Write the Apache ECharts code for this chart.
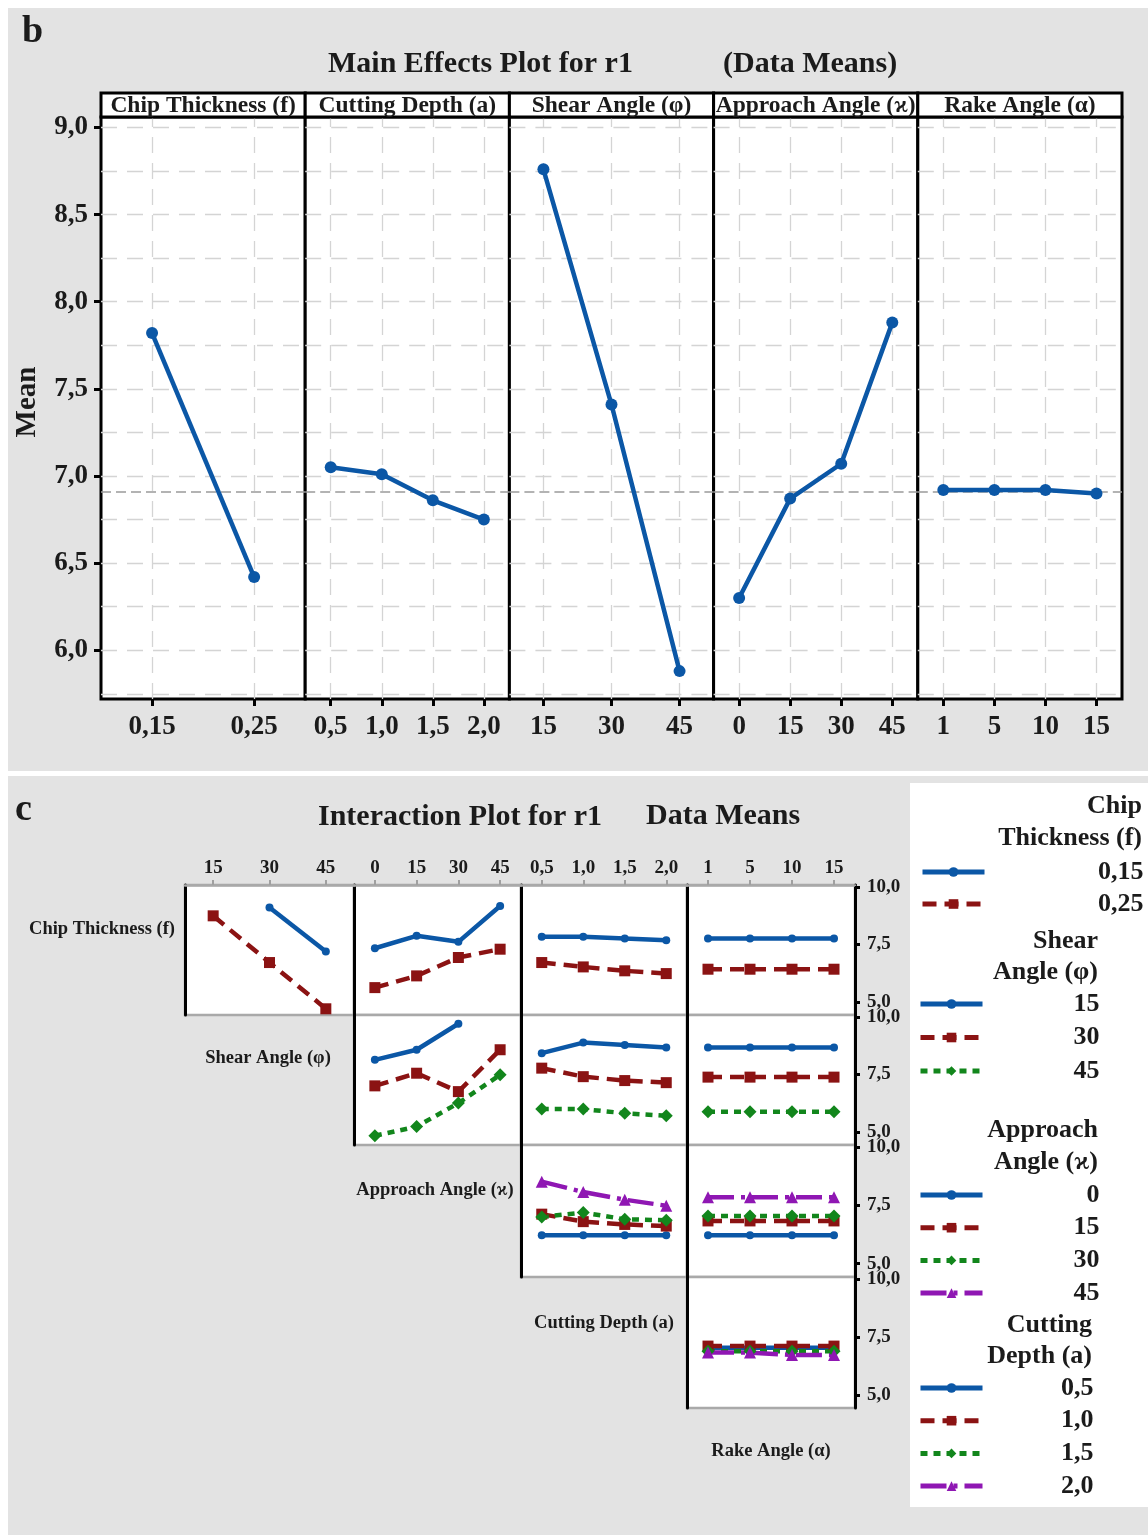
<!DOCTYPE html>
<html><head><meta charset="utf-8">
<script src="https://cdn.jsdelivr.net/npm/echarts@6/dist/echarts.min.js"></script>
<style>
html,body{margin:0;padding:0;background:#fff;}
#wrap{position:relative;width:1148px;height:1535px;overflow:hidden;background:#fff;}
.bg{position:absolute;background:#e3e3e3;}
#chart{position:absolute;left:0;top:0;width:1148px;height:1535px;}
</style></head>
<body><div id="wrap">
<div class="bg" style="left:8px;top:8px;width:1140px;height:763px"></div>
<div class="bg" style="left:8px;top:776px;width:1140px;height:759px"></div>
<div style="position:absolute;left:910px;top:783px;width:238px;height:724px;background:#fff"></div>
<div id="chart"></div></div>
<script>
// ---------- DATA ----------
const chipLevels = ['0,15', '0,25'];
const depthLevels = ['0,5', '1,0', '1,5', '2,0'];
const shearLevels = ['15', '30', '45'];
const approachLevels = ['0', '15', '30', '45'];
const rakeLevels = ['1', '5', '10', '15'];

// Main effects (means)
const meanChip = [7.82, 6.42];
const meanDepth = [7.05, 7.01, 6.86, 6.75];
const meanShear = [8.76, 7.41, 5.88];
const meanApproach = [6.30, 6.87, 7.07, 7.88];
const meanRake = [6.92, 6.92, 6.92, 6.90];
const grandMean = 6.91;
const meanTicks = [6.0, 6.5, 7.0, 7.5, 8.0, 8.5, 9.0];
const meanGridValues = [5.75, 6.0, 6.25, 6.5, 6.75, 7.0, 7.25, 7.5, 7.75, 8.0, 8.25, 8.5, 8.75, 9.0];
const interTicks = [5.0, 7.5, 10.0];

// Interaction: Chip Thickness (f) traces
const f015_vsShear = [null, 9.10, 7.19];
const f025_vsShear = [8.74, 6.71, 4.70];
const f015_vsApproach = [7.33, 7.87, 7.61, 9.17];
const f025_vsApproach = [5.62, 6.13, 6.93, 7.29];
const f015_vsDepth = [7.83, 7.83, 7.75, 7.68];
const f025_vsDepth = [6.71, 6.52, 6.35, 6.23];
const f015_vsRake = [7.75, 7.75, 7.75, 7.75];
const f025_vsRake = [6.42, 6.42, 6.42, 6.42];
// Shear Angle traces
const s15_vsApproach = [8.13, 8.57, 9.70, null];
const s30_vsApproach = [7.00, 7.55, 6.75, 8.57];
const s45_vsApproach = [4.83, 5.23, 6.25, 7.48];
const s15_vsDepth = [8.42, 8.88, 8.78, 8.67];
const s30_vsDepth = [7.77, 7.40, 7.23, 7.14];
const s45_vsDepth = [5.99, 5.99, 5.81, 5.70];
const s15_vsRake = [8.67, 8.67, 8.67, 8.67];
const s30_vsRake = [7.38, 7.38, 7.38, 7.38];
const s45_vsRake = [5.88, 5.88, 5.88, 5.88];
// Approach Angle traces
const a0_vsDepth = [6.22, 6.22, 6.22, 6.22];
const a15_vsDepth = [7.12, 6.80, 6.68, 6.61];
const a30_vsDepth = [7.00, 7.19, 6.90, 6.86];
const a45_vsDepth = [8.51, 8.07, 7.74, 7.48];
const a0_vsRake = [6.22, 6.22, 6.22, 6.22];
const a15_vsRake = [6.83, 6.83, 6.83, 6.83];
const a30_vsRake = [7.04, 7.04, 7.04, 7.04];
const a45_vsRake = [7.84, 7.84, 7.84, 7.84];
// Cutting Depth traces
const d05_vsRake = [7.03, 7.03, 7.03, 7.03];
const d10_vsRake = [7.10, 7.10, 7.10, 7.10];
const d15_vsRake = [6.88, 6.88, 6.88, 6.88];
const d20_vsRake = [6.82, 6.82, 6.72, 6.72];

// ---------- STYLE / LAYOUT ----------
const FONT = 'Liberation Serif';
const INK = '#1b1b1b';
const BLUE = '#0b57a6';
const levelStyles = [
  {color: '#0b57a6', type: 'solid', symbol: 'circle', size: 8},
  {color: '#8b1313', type: [14, 8], symbol: 'rect', size: 11},
  {color: '#12861c', type: [7, 6], symbol: 'diamond', size: 13},
  {color: '#8f17b3', type: [26, 7, 4, 7], symbol: 'triangle', size: 12}
];
const fmt = v => Number(v).toFixed(1).replace('.', ',');

const grid = [], xAxis = [], yAxis = [], series = [], graphic = [];

function txt(x, y, s, size, align, extra) {
  return Object.assign({
    type: 'text', x: x, y: y, silent: true, z: 50,
    style: {text: s, x: 0, y: 0, fill: INK, font: 'bold ' + size + 'px "' + FONT + '"',
      align: align || 'left', textAlign: align || 'left',
      verticalAlign: 'middle', textVerticalAlign: 'middle'}
  }, extra || {});
}

// ---------- MAIN EFFECTS ----------
const mainPanels = [
  {title: 'Chip Thickness (f)', cats: chipLevels, data: meanChip},
  {title: 'Cutting Depth (a)', cats: depthLevels, data: meanDepth},
  {title: 'Shear Angle (\u03C6)', cats: shearLevels, data: meanShear},
  {title: 'Approach Angle (\u03F0)', cats: approachLevels, data: meanApproach},
  {title: 'Rake Angle (\u03B1)', cats: rakeLevels, data: meanRake}
];
const ME = {left: 101, top: 117, width: 204.2, height: 582, min: 5.72, max: 9.06};
mainPanels.forEach((p, i) => {
  const gi = grid.length;
  const left = ME.left + i * ME.width;
  grid.push({left: left, top: ME.top, width: ME.width, height: ME.height, show: true,
    backgroundColor: '#fff', borderColor: '#000', borderWidth: 3});
  xAxis.push({type: 'category', gridIndex: gi, data: p.cats, boundaryGap: true,
    axisLine: {show: false}, splitLine: {show: false},
    axisTick: {show: true, alignWithLabel: true, length: 7, lineStyle: {color: '#000', width: 3}},
    axisLabel: {interval: 0, margin: 15, fontFamily: FONT, fontWeight: 'bold', fontSize: 27, color: INK}});
  const yi = yAxis.length;
  yAxis.push({type: 'value', gridIndex: gi, min: ME.min, max: ME.max,
    axisLine: {show: false}, splitLine: {show: false},
    axisTick: {show: i === 0, length: 7, lineStyle: {color: '#000', width: 3}, customValues: meanTicks},
    axisLabel: {show: i === 0, customValues: meanTicks, formatter: fmt, margin: 13,
      fontFamily: FONT, fontWeight: 'bold', fontSize: 27, color: INK}});
  // gridlines
  series.push({type: 'line', xAxisIndex: gi, yAxisIndex: yi, data: [], silent: true, z: 1,
    markLine: {silent: true, symbol: 'none', animation: false, label: {show: false},
      lineStyle: {color: '#d4d4d4', type: [16, 10], width: 1.3},
      data: meanGridValues.map(v => ({yAxis: v})).concat(p.cats.map((c, k) => ({xAxis: k})))}});
  // reference mean line
  series.push({type: 'line', xAxisIndex: gi, yAxisIndex: yi, data: [], silent: true, z: 1,
    markLine: {silent: true, symbol: 'none', animation: false, label: {show: false},
      lineStyle: {color: '#9b9b9b', type: [10, 5], width: 1.5},
      data: [{yAxis: grandMean}]}});
  series.push({type: 'line', name: 'Mean ' + p.title, xAxisIndex: gi, yAxisIndex: yi, data: p.data,
    symbol: 'circle', symbolSize: 12, z: 5,
    lineStyle: {color: BLUE, width: 4.5}, itemStyle: {color: BLUE}});
  graphic.push({type: 'rect', z: 40, shape: {x: left, y: 93, width: ME.width, height: 24},
    style: {fill: '#fff', stroke: '#000', lineWidth: 3}});
  graphic.push(txt(left + ME.width / 2, 106, p.title, 23.5, 'center'));
});

graphic.push(txt(22, 32, 'b', 38, 'left'));
graphic.push(txt(328, 64, 'Main Effects Plot for r1', 30, 'left'));
graphic.push(txt(723, 64, '(Data Means)', 30, 'left'));
graphic.push(txt(28, 402, 'Mean', 29, 'center', {rotation: Math.PI / 2}));

// ---------- INTERACTION ----------
const rowsDef = [
  {name: 'Chip Thickness (f)', levels: chipLevels},
  {name: 'Shear Angle (\u03C6)', levels: shearLevels},
  {name: 'Approach Angle (\u03F0)', levels: approachLevels},
  {name: 'Cutting Depth (a)', levels: depthLevels}
];
const colsDef = [shearLevels, approachLevels, depthLevels, rakeLevels];
const interCells = [
  {r: 0, c: 0, data: [f015_vsShear, f025_vsShear]},
  {r: 0, c: 1, data: [f015_vsApproach, f025_vsApproach]},
  {r: 0, c: 2, data: [f015_vsDepth, f025_vsDepth]},
  {r: 0, c: 3, data: [f015_vsRake, f025_vsRake]},
  {r: 1, c: 1, data: [s15_vsApproach, s30_vsApproach, s45_vsApproach]},
  {r: 1, c: 2, data: [s15_vsDepth, s30_vsDepth, s45_vsDepth]},
  {r: 1, c: 3, data: [s15_vsRake, s30_vsRake, s45_vsRake]},
  {r: 2, c: 2, data: [a0_vsDepth, a15_vsDepth, a30_vsDepth, a45_vsDepth]},
  {r: 2, c: 3, data: [a0_vsRake, a15_vsRake, a30_vsRake, a45_vsRake]},
  {r: 3, c: 3, data: [d05_vsRake, d10_vsRake, d15_vsRake, d20_vsRake]}
];
const colX = [185, 354, 521, 687, 855];
const rowY = [885, 1015, 1145, 1277, 1408];
const IY = {min: 4.43, max: 10.08};

interCells.forEach(cell => {
  const gi = grid.length;
  grid.push({left: colX[cell.c], top: rowY[cell.r], width: colX[cell.c + 1] - colX[cell.c],
    height: rowY[cell.r + 1] - rowY[cell.r], show: true, backgroundColor: '#fff',
    borderColor: '#a9a9a9', borderWidth: 2.5});
  const xi = xAxis.length;
  xAxis.push({type: 'category', gridIndex: gi, data: colsDef[cell.c], boundaryGap: true,
    position: 'top', show: cell.r === 0,
    axisLine: {show: true, lineStyle: {color: '#a9a9a9', width: 2.5}}, splitLine: {show: false},
    axisTick: {show: true, alignWithLabel: true, length: 5, lineStyle: {color: '#a0a0a0', width: 2}},
    axisLabel: {interval: 0, margin: 7, fontFamily: FONT, fontWeight: 'bold', fontSize: 19, color: INK}});
  const yi = yAxis.length;
  yAxis.push({type: 'value', gridIndex: gi, min: IY.min, max: IY.max, position: 'left',
    axisLine: {show: true, onZero: false, lineStyle: {color: '#000', width: 3}},
    axisTick: {show: false}, axisLabel: {show: false}, splitLine: {show: false}});
  if (cell.c === 3) {
    yAxis.push({type: 'value', gridIndex: gi, min: IY.min, max: IY.max, position: 'right',
      axisLine: {show: true, onZero: false, lineStyle: {color: '#000', width: 3}},
      axisTick: {show: true, length: 5, lineStyle: {color: '#000', width: 3}, customValues: interTicks},
      axisLabel: {show: true, customValues: interTicks, formatter: fmt, margin: 12,
        fontFamily: FONT, fontWeight: 'bold', fontSize: 19, color: INK},
      splitLine: {show: false}});
  }
  const row = rowsDef[cell.r];
  cell.data.forEach((d, k) => {
    const st = levelStyles[k];
    series.push({type: 'line', name: row.name + '|' + row.levels[k], xAxisIndex: xi, yAxisIndex: yi,
      data: d, symbol: st.symbol, symbolSize: st.size, z: 5,
      lineStyle: {color: st.color, width: 4.5, type: st.type}, itemStyle: {color: st.color}});
  });
});

graphic.push(txt(15, 810, 'c', 38, 'left'));
graphic.push(txt(318, 817, 'Interaction Plot for r1', 30, 'left'));
graphic.push(txt(646, 816, 'Data Means', 30, 'left'));
graphic.push(txt(175, 929, 'Chip Thickness (f)', 18.5, 'right'));
graphic.push(txt(268, 1058, 'Shear Angle (\u03C6)', 18.5, 'center'));
graphic.push(txt(435, 1190, 'Approach Angle (\u03F0)', 18.5, 'center'));
graphic.push(txt(604, 1323, 'Cutting Depth (a)', 18.5, 'center'));
graphic.push(txt(771, 1451, 'Rake Angle (\u03B1)', 18.5, 'center'));

// legend group titles
graphic.push(txt(1142, 806, 'Chip', 26, 'right'));
graphic.push(txt(1142, 838, 'Thickness (f)', 26, 'right'));
graphic.push(txt(1098, 941, 'Shear', 26, 'right'));
graphic.push(txt(1098, 972, 'Angle (\u03C6)', 26, 'right'));
graphic.push(txt(1098, 1130, 'Approach', 26, 'right'));
graphic.push(txt(1098, 1162, 'Angle (\u03F0)', 26, 'right'));
graphic.push(txt(1092, 1325, 'Cutting', 26, 'right'));
graphic.push(txt(1092, 1356, 'Depth (a)', 26, 'right'));

const legendDefs = [
  {row: 0, left: 920, top: 859, W: 154, gap: 6},
  {row: 1, left: 918, top: 991, W: 112, gap: 7.5},
  {row: 2, left: 918, top: 1182, W: 112, gap: 6.7},
  {row: 3, left: 918, top: 1375, W: 106, gap: 6.7}
];
const legend = legendDefs.map(d => ({
  orient: 'vertical', left: d.left, top: d.top, padding: 0,
  itemWidth: 62, itemHeight: 12, itemGap: d.gap, itemTextGap: 4, selectedMode: false,
  data: rowsDef[d.row].levels.map(l => rowsDef[d.row].name + '|' + l),
  formatter: n => '{t|' + n.split('|')[1] + '}',
  lineStyle: {width: 5},
  textStyle: {rich: {t: {width: d.W, align: 'right', fontFamily: FONT, fontWeight: 'bold',
    fontSize: 26, color: INK, lineHeight: 26, height: 26}}}
}));

const chart = echarts.init(document.getElementById('chart'), null, {renderer: 'canvas'});
chart.setOption({
  animation: false,
  backgroundColor: 'transparent',
  textStyle: {fontFamily: FONT},
  grid: grid, xAxis: xAxis, yAxis: yAxis, series: series, legend: legend, graphic: graphic
});
</script>
</body></html>
